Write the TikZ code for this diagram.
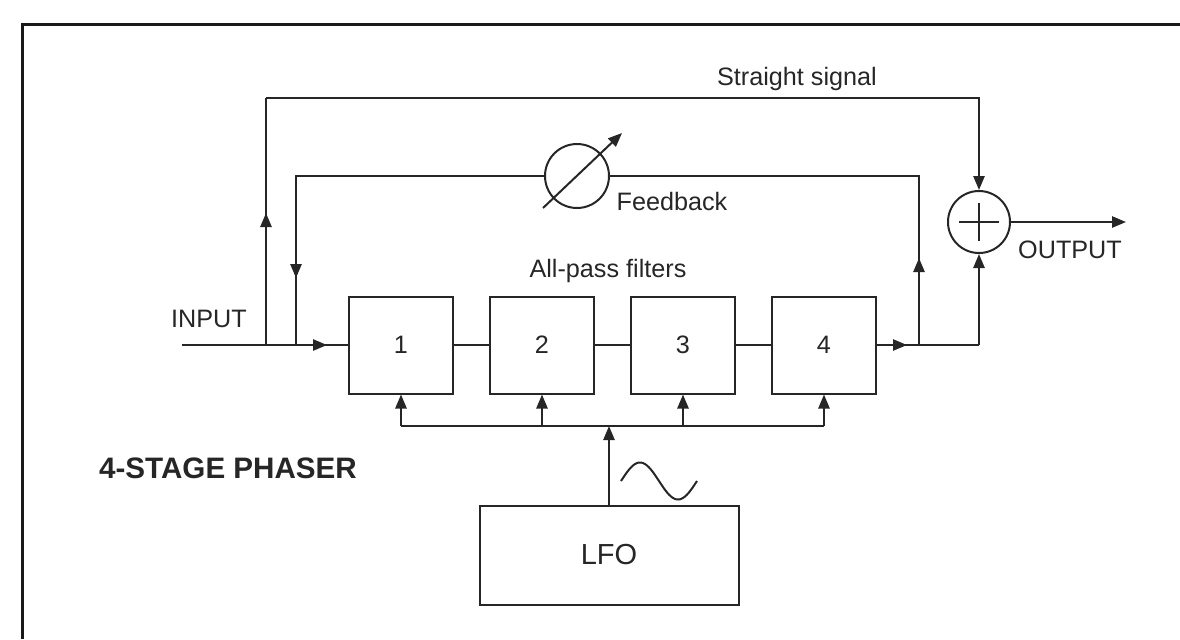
\documentclass[tikz,border=0pt]{standalone}
\usepackage{fontspec}
\setmainfont{Liberation Sans}
\usetikzlibrary{positioning}
\usetikzlibrary{arrows.meta}
\usetikzlibrary{calc}
\tikzset{
    every node/.append style={font=\fontsize{12.6}{15}\selectfont, text=black!85},
    wire/.style={line width=1pt, black!85},
    sig/.style={wire, -{Triangle[length=7pt,width=5.6pt]}},
    stage/.style={draw=black!85, line width=1pt, minimum width=52pt, minimum height=48.5pt, inner sep=0pt},
    ring/.style={draw=black!85, circle, line width=1pt, inner sep=0pt},
    label/.style={anchor=base, inner sep=0pt},
    x=0.5pt, y=-0.5pt
}

\begin{document}
\begin{tikzpicture}
\useasboundingbox (0,0) rectangle (1180,639);
\draw[line width=1.5pt, black!90] (22,639) -- (22,24) -- (1180,24);

% all-pass chain
\node[stage] (s1) at (401,345) {1};
\node[stage, right=17.5pt of s1] (s2) {2};
\node[stage, right=17.5pt of s2] (s3) {3};
\node[stage, right=17.5pt of s3] (s4) {4};
\node[stage, minimum width=129.5pt, minimum height=49.5pt, font=\fontsize{14.5}{17}\selectfont] (lfo) at (609,555) {LFO};
\node[ring, minimum size=31pt] (sum) at (979,222) {};
\node[ring, minimum size=32pt] (att) at (577,176) {};

% texts
\node[label] (input) at (209,327) {INPUT};
\node[label] (output) at (1070,258) {OUTPUT};
\node[label] (straight) at (797,85) {Straight signal};
\node[label] (feedback) at (672,210) {Feedback};
\node[label] (allpass) at (608,277) {All-pass filters};
\node[label, font=\fontsize{14.8}{17}\selectfont\bfseries] (title) at (228,478) {4-STAGE PHASER};

% junctions
\coordinate (inL) at (182,345);
\coordinate (tapS) at (266,345);
\coordinate (tapF) at (296,345);
\coordinate (top) at (266,98);
\coordinate (jn) at (919,345);
\coordinate (outB) at (979,345);
\coordinate (outR) at (1126,222);
\coordinate (bus) at (609,426);

% plus sign
\draw[wire] ($(sum)+(-20,0)$) -- ($(sum)+(20,0)$);
\draw[wire] ($(sum)+(0,-19)$) -- ($(sum)+(0,19)$);
% variable gain
\draw[sig] ($(att)+(-34,32)$) -- ($(att)+(45,-43)$);

% input and straight path
\draw[wire] (inL) -- (s1.west);
\draw[sig] (inL) -- ($(s1.west)+(-21,0)$);
\draw[wire] (tapS) -- (top);
\draw[sig] (tapS) -- ($(tapS)+(0,-132)$);
\draw[sig] (top) -| (sum.north);

% feedback loop
\draw[wire] (jn) |- (att.east);
\draw[sig] (jn) -- ($(jn)+(0,-87)$);
\draw[wire] (att.west) -| (tapF);
\draw[sig] ($(tapF)+(0,-169)$) -- ($(tapF)+(0,-67)$);

% chain links
\draw[wire] (s1) -- (s2);
\draw[wire] (s2) -- (s3);
\draw[wire] (s3) -- (s4);
\draw[wire] (s4.east) -- (outB);
\draw[sig] (s4.east) -- ($(jn)+(-12,0)$);
\draw[sig] (outB) -- (sum.south);
\draw[sig] (sum.east) -- (outR);

% LFO bus
\draw[wire] (s1.south |- bus) -- (s4.south |- bus);
\foreach \k in {1,...,4}
    \draw[sig] (s\k.south |- bus) -- (s\k.south);
\draw[sig] (lfo.north) -- (bus);
\draw[wire] plot[domain=0:360, samples=50, smooth] ({621+\x/360*76},{481-18.5*sin(\x)});
\end{tikzpicture}
\end{document}
